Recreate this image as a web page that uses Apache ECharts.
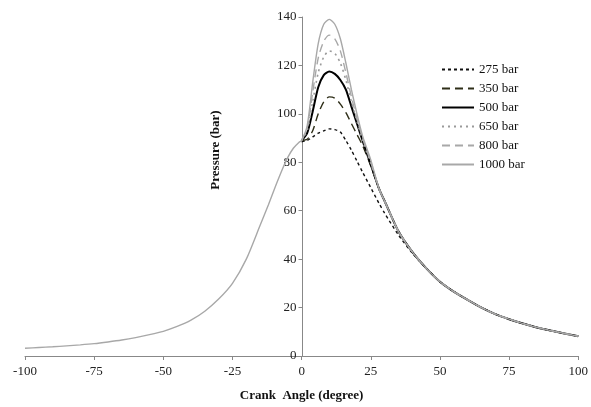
<!DOCTYPE html>
<html>
<head>
<meta charset="utf-8">
<script src="https://cdn.jsdelivr.net/npm/echarts@6/dist/echarts.min.js"></script>
<style>
  html, body { margin: 0; padding: 0; background: #fff; }
  #chart { width: 591px; height: 407px; }
</style>
</head>
<body>
<div id="chart"></div>
<script>
// compression stroke, same for every injection pressure
var compAngles = [-100, -95, -90, -85, -80, -75, -70, -65, -60, -55, -50, -45, -40, -35, -30, -25, -20, -15, -12, -10, -7, -5, -3, -1, 0];
var compPress  = [3.2, 3.5, 3.8, 4.2, 4.6, 5.1, 5.8, 6.6, 7.6, 8.8, 10.2, 12.2, 14.8, 18.5, 23.5, 30.0, 40.0, 54.0, 62.5, 68.5, 77.0, 82.0, 85.8, 88.2, 89.0];

// combustion part, -> each pressure has its own curve
var combAngles = [0, 2, 4, 6, 8, 10, 12, 14, 16, 18, 20, 22, 25];
var p275  = [88.5, 89.0, 90.5, 92.0, 93.0, 93.8, 93.5, 92.5, 89.0, 85.0, 80.5, 76.0, 69.5];
var p350  = [89.0, 89.5, 93.0, 100.0, 105.0, 107.0, 106.5, 104.0, 100.5, 96.0, 91.5, 87.0, 78.5];
var p500  = [89.0, 92.0, 101.0, 111.0, 116.0, 117.5, 116.5, 114.0, 110.0, 103.0, 96.0, 89.0, 79.0];
var p650  = [89.0, 93.0, 105.0, 117.0, 123.5, 126.0, 125.0, 121.0, 114.0, 105.0, 97.0, 89.0, 79.5];
var p800  = [89.0, 94.0, 109.0, 123.0, 130.0, 132.5, 131.0, 126.0, 117.0, 107.0, 98.0, 90.0, 80.0];
var p1000 = [89.0, 95.0, 113.0, 129.0, 137.0, 139.0, 137.0, 131.0, 121.0, 110.0, 100.0, 91.0, 81.0];

// expansion stroke
var expAngles = [28, 30, 35, 40, 45, 50, 55, 60, 65, 70, 75, 80, 85, 90, 95, 100];
var expPress  = [69.0, 64.0, 51.5, 43.0, 36.3, 30.7, 26.6, 23.2, 20.0, 17.3, 15.2, 13.4, 11.8, 10.5, 9.3, 8.2];
var exp275    = [63.0, 59.0, 50.0, 42.5, 36.3, 30.7, 26.6, 23.2, 20.0, 17.3, 15.2, 13.4, 11.8, 10.5, 9.3, 8.2];

var xTicks = [-100, -75, -50, -25, 0, 25, 50, 75, 100];
var seriesNames = ['275 bar', '350 bar', '500 bar', '650 bar', '800 bar', '1000 bar'];

function pairs(xs, ys) {
  return xs.map(function (x, i) { return [x, ys[i]]; });
}

var serif = 'Liberation Serif, DejaVu Serif, serif';

var data275  = pairs(combAngles, p275).concat(pairs(expAngles, exp275));
var data350  = pairs(combAngles, p350).concat(pairs(expAngles, expPress));
var data500  = pairs(combAngles, p500).concat(pairs(expAngles, expPress));
var data650  = pairs(combAngles, p650).concat(pairs(expAngles, expPress));
var data800  = pairs(combAngles, p800).concat(pairs(expAngles, expPress));
var data1000 = pairs(compAngles, compPress).concat(pairs(combAngles.slice(1), p1000.slice(1)), pairs(expAngles, expPress));

function line(name, data, color, width, type) {
  return {
    name: name,
    type: 'line',
    data: data,
    symbol: 'none',
    smooth: 0.25,
    lineStyle: { color: color, width: width, type: type },
    itemStyle: { color: color },
    emphasis: { disabled: true }
  };
}

// y axis sits at angle 0: grid left 25, plot width 555 -> 277.5 px in
var yAxisOffset = -277.5;

var chartOptions = {
  animation: false,
  backgroundColor: '#fff',
  grid: { left: 25, right: 11, top: 17, bottom: 50 },
  legend: {
    orient: 'vertical',
    left: 436,
    top: 58,
    itemWidth: 32,
    itemHeight: 14,
    itemGap: 6,
    selectedMode: false,
    itemStyle: { opacity: 0 },
    textStyle: { fontFamily: serif, fontSize: 13, color: '#111' },
    data: seriesNames
  },
  xAxis: {
    type: 'value',
    min: -100,
    max: 100,
    interval: 25,
    name: 'Crank  Angle (degree)',
    nameLocation: 'middle',
    nameGap: 33,
    nameTextStyle: { fontFamily: serif, fontSize: 13, fontWeight: 'bold', color: '#111' },
    axisLine: { onZero: false, lineStyle: { color: '#888' } },
    axisTick: { length: 4, lineStyle: { color: '#888' } },
    axisLabel: { fontFamily: serif, fontSize: 13, color: '#222', margin: 9,
      formatter: function (v) { return xTicks.indexOf(v) >= 0 ? String(v) : ''; } },
    splitLine: { show: false }
  },
  yAxis: {
    type: 'value',
    position: 'left',
    offset: yAxisOffset,
    min: 0,
    max: 140,
    interval: 20,
    axisLine: { show: true, onZero: false, lineStyle: { color: '#888' } },
    axisTick: { show: true, length: 4, lineStyle: { color: '#888' } },
    axisLabel: { fontFamily: serif, fontSize: 13, color: '#222', margin: 6 },
    splitLine: { show: false }
  },
  graphic: [{
    type: 'text',
    x: 216,
    y: 150,
    rotation: Math.PI / 2,
    style: {
      text: 'Pressure (bar)',
      font: 'bold 13px ' + serif,
      fill: '#111',
      align: 'center',
      verticalAlign: 'middle'
    }
  }],
  series: [
    line('275 bar', data275, '#111', 1.4, [3, 3]),
    line('350 bar', data350, '#2e2e18', 1.4, [8, 5]),
    line('500 bar', data500, '#000', 2, 'solid'),
    line('650 bar', data650, '#9a9a9a', 1.6, [2, 4]),
    line('800 bar', data800, '#a8a8a8', 1.4, [8, 5]),
    line('1000 bar', data1000, '#a8a8a8', 1.4, 'solid')
  ]
};

var chart = echarts.init(document.getElementById('chart'));
chart.setOption(chartOptions);
</script>
</body>
</html>
